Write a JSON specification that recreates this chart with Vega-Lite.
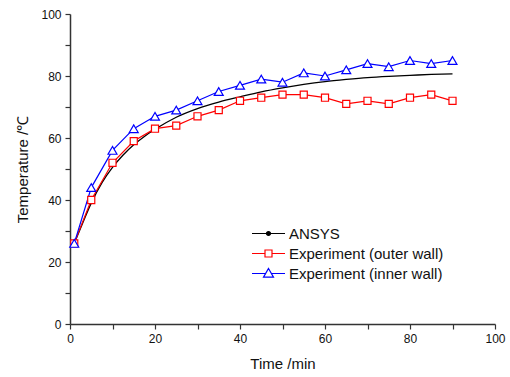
{
  "$schema": "https://vega.github.io/schema/vega-lite/v6.json",
  "autosize": "none",
  "width": 425,
  "height": 310,
  "padding": {"left": 70, "top": 14, "right": 15, "bottom": 53},
  "background": "white",
  "config": {
    "view": {"stroke": null},
    "font": "Liberation Sans",
    "axis": {
      "grid": false,
      "domainColor": "#333333",
      "domainWidth": 1.5,
      "tickColor": "#333333",
      "tickWidth": 1.2,
      "tickSize": 5,
      "labelFont": "Liberation Sans",
      "labelFontSize": 12,
      "labelColor": "#111111",
      "labelFlush": false,
      "titleFont": "Liberation Sans",
      "titleFontSize": 15,
      "titleFontWeight": "normal",
      "titleColor": "#111111",
      "labelOverlap": false
    }
  },
  "datasets": {
    "pts": [
      {"t": 1, "T": 26, "series": "ANSYS"},
      {"t": 2.5, "T": 31, "series": "ANSYS"},
      {"t": 5, "T": 39, "series": "ANSYS"},
      {"t": 7.5, "T": 45.5, "series": "ANSYS"},
      {"t": 10, "T": 50.5, "series": "ANSYS"},
      {"t": 12.5, "T": 54.5, "series": "ANSYS"},
      {"t": 15, "T": 57.8, "series": "ANSYS"},
      {"t": 17.5, "T": 60.5, "series": "ANSYS"},
      {"t": 20, "T": 62.8, "series": "ANSYS"},
      {"t": 25, "T": 66.7, "series": "ANSYS"},
      {"t": 30, "T": 69.5, "series": "ANSYS"},
      {"t": 35, "T": 71.6, "series": "ANSYS"},
      {"t": 40, "T": 73.3, "series": "ANSYS"},
      {"t": 45, "T": 74.9, "series": "ANSYS"},
      {"t": 50, "T": 76.2, "series": "ANSYS"},
      {"t": 55, "T": 77.3, "series": "ANSYS"},
      {"t": 60, "T": 78.2, "series": "ANSYS"},
      {"t": 65, "T": 78.9, "series": "ANSYS"},
      {"t": 70, "T": 79.5, "series": "ANSYS"},
      {"t": 75, "T": 79.9, "series": "ANSYS"},
      {"t": 80, "T": 80.2, "series": "ANSYS"},
      {"t": 85, "T": 80.5, "series": "ANSYS"},
      {"t": 90, "T": 80.7, "series": "ANSYS"},
      {"t": 1, "T": 26, "series": "Experiment (outer wall)"},
      {"t": 5, "T": 40, "series": "Experiment (outer wall)"},
      {"t": 10, "T": 52, "series": "Experiment (outer wall)"},
      {"t": 15, "T": 59, "series": "Experiment (outer wall)"},
      {"t": 20, "T": 63, "series": "Experiment (outer wall)"},
      {"t": 25, "T": 64, "series": "Experiment (outer wall)"},
      {"t": 30, "T": 67, "series": "Experiment (outer wall)"},
      {"t": 35, "T": 69, "series": "Experiment (outer wall)"},
      {"t": 40, "T": 72, "series": "Experiment (outer wall)"},
      {"t": 45, "T": 73, "series": "Experiment (outer wall)"},
      {"t": 50, "T": 74, "series": "Experiment (outer wall)"},
      {"t": 55, "T": 74, "series": "Experiment (outer wall)"},
      {"t": 60, "T": 73, "series": "Experiment (outer wall)"},
      {"t": 65, "T": 71, "series": "Experiment (outer wall)"},
      {"t": 70, "T": 72, "series": "Experiment (outer wall)"},
      {"t": 75, "T": 71, "series": "Experiment (outer wall)"},
      {"t": 80, "T": 73, "series": "Experiment (outer wall)"},
      {"t": 85, "T": 74, "series": "Experiment (outer wall)"},
      {"t": 90, "T": 72, "series": "Experiment (outer wall)"},
      {"t": 1, "T": 26, "series": "Experiment (inner wall)"},
      {"t": 5, "T": 44, "series": "Experiment (inner wall)"},
      {"t": 10, "T": 56, "series": "Experiment (inner wall)"},
      {"t": 15, "T": 63, "series": "Experiment (inner wall)"},
      {"t": 20, "T": 67, "series": "Experiment (inner wall)"},
      {"t": 25, "T": 69, "series": "Experiment (inner wall)"},
      {"t": 30, "T": 72, "series": "Experiment (inner wall)"},
      {"t": 35, "T": 75, "series": "Experiment (inner wall)"},
      {"t": 40, "T": 77, "series": "Experiment (inner wall)"},
      {"t": 45, "T": 79, "series": "Experiment (inner wall)"},
      {"t": 50, "T": 78, "series": "Experiment (inner wall)"},
      {"t": 55, "T": 81, "series": "Experiment (inner wall)"},
      {"t": 60, "T": 80, "series": "Experiment (inner wall)"},
      {"t": 65, "T": 82, "series": "Experiment (inner wall)"},
      {"t": 70, "T": 84, "series": "Experiment (inner wall)"},
      {"t": 75, "T": 83, "series": "Experiment (inner wall)"},
      {"t": 80, "T": 85, "series": "Experiment (inner wall)"},
      {"t": 85, "T": 84, "series": "Experiment (inner wall)"},
      {"t": 90, "T": 85, "series": "Experiment (inner wall)"}
    ]
  },
  "data": {"name": "pts"},
  "encoding": {
    "x": {
      "field": "t", "type": "quantitative",
      "scale": {"domain": [0, 100], "nice": false, "zero": false},
      "axis": {
        "title": "Time /min",
        "values": [0, 10, 20, 30, 40, 50, 60, 70, 80, 90, 100],
        "labelExpr": "datum.value % 20 == 0 ? datum.label : ''",
        "labelPadding": 4,
        "titlePadding": 12,
        "encode": {"ticks": {"update": {"y2": {"signal": "datum.value % 20 == 0 ? 5 : 3"}}}}
      }
    },
    "y": {
      "field": "T", "type": "quantitative",
      "scale": {"domain": [0, 100], "nice": false},
      "axis": {
        "title": "Temperature /℃",
        "values": [0, 10, 20, 30, 40, 50, 60, 70, 80, 90, 100],
        "labelExpr": "datum.value % 20 == 0 ? datum.label : ''",
        "labelPadding": 4,
        "titlePadding": 10,
        "encode": {"ticks": {"update": {"x2": {"signal": "datum.value % 20 == 0 ? -5 : -3"}}}}
      }
    }
  },
  "layer": [
    {
      "transform": [{"filter": "datum.series == 'ANSYS'"}],
      "mark": {"type": "line", "interpolate": "monotone", "strokeWidth": 1.3},
      "encoding": {
        "color": {
          "field": "series", "type": "nominal",
          "scale": {
            "domain": ["ANSYS", "Experiment (outer wall)", "Experiment (inner wall)"],
            "range": ["#000000", "#ff0000", "#0000ff"]
          },
          "legend": {
            "title": null,
            "orient": "none",
            "legendX": 186,
            "legendY": 212,
            "padding": 0,
            "rowPadding": 4,
            "symbolSize": 100,
            "symbolStrokeWidth": 1.2,
            "labelOffset": 18,
            "labelFont": "Liberation Sans",
            "labelFontSize": 15,
            "labelColor": "#111111",
            "encode": {
              "symbols": {
                "update": {
                  "size": {"value": 100},
                  "shape": {"signal": "datum.value == 'ANSYS' ? 'M-2.3,0H4.3M0.6,0A0.4,0.4 0 1,0 1.4,0A0.4,0.4 0 1,0 0.6,0Z' : (datum.value == 'Experiment (outer wall)' ? 'M-2.3,0H0.3M1.7,0H4.3M0.3,-0.7H1.7V0.7H0.3Z' : 'M-2.3,0H0.42M1.58,0H4.3M1,-1L2,0.73H0Z')"},
                  "fill": {"signal": "datum.value == 'ANSYS' ? '#000000' : '#ffffff'"},
                  "fillOpacity": {"value": 1},
                  "stroke": {"signal": "datum.value == 'ANSYS' ? '#000000' : (datum.value == 'Experiment (outer wall)' ? '#ff0000' : '#0000ff')"},
                  "strokeWidth": {"value": 1.2}
                }
              }
            }
          }
        }
      }
    },
    {
      "transform": [{"filter": "datum.series != 'ANSYS'"}],
      "mark": {"type": "line", "strokeWidth": 1.2},
      "encoding": {
        "color": {"field": "series", "type": "nominal"}
      }
    },
    {
      "transform": [{"filter": "datum.series == 'Experiment (outer wall)'"}],
      "mark": {"type": "point", "shape": "square", "size": 50, "filled": false, "fill": "#ffffff", "fillOpacity": 1, "stroke": "#ff0000", "strokeWidth": 1.2, "opacity": 1}
    },
    {
      "transform": [{"filter": "datum.series == 'Experiment (inner wall)'"}],
      "mark": {"type": "point", "shape": "triangle-up", "size": 80, "filled": false, "fill": "#ffffff", "fillOpacity": 1, "stroke": "#0000ff", "strokeWidth": 1.2, "opacity": 1}
    }
  ]
}
